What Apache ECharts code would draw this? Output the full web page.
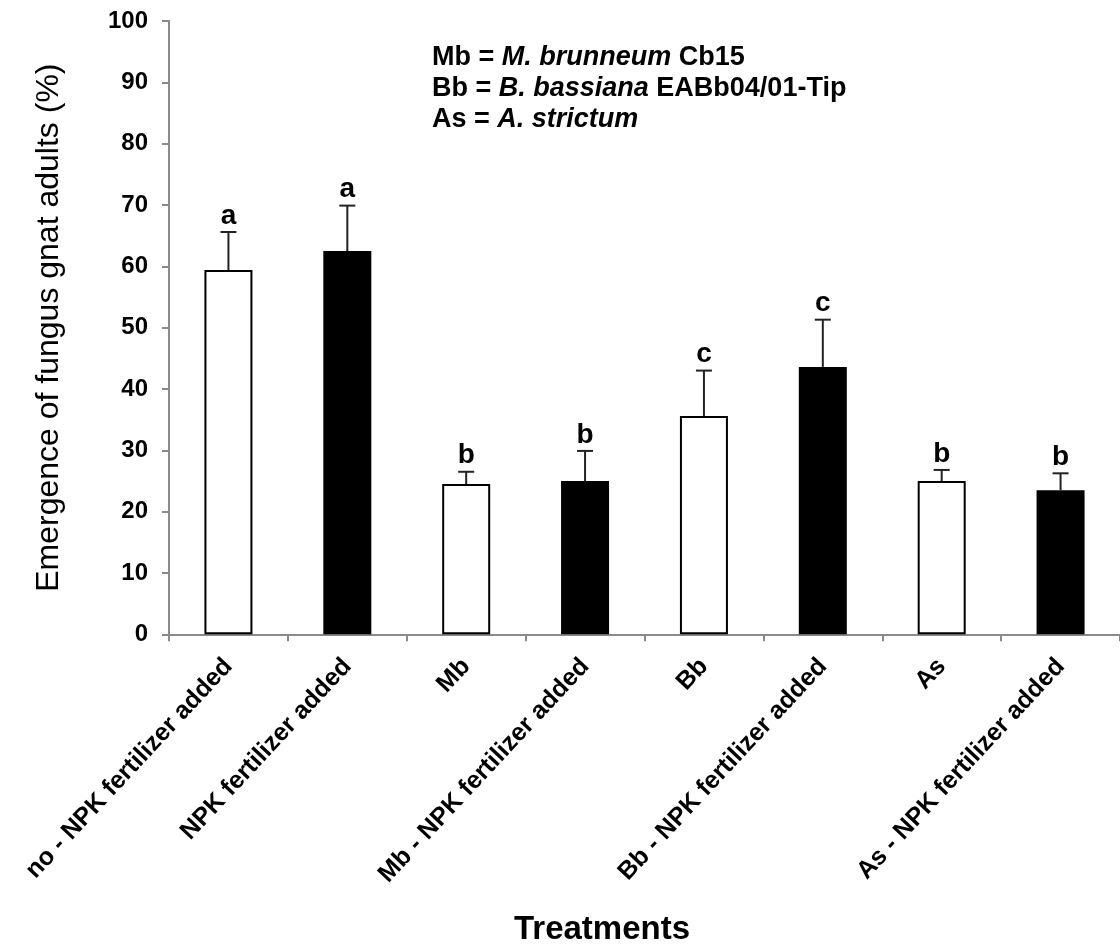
<!DOCTYPE html>
<html>
<head>
<meta charset="utf-8">
<script src="https://cdn.jsdelivr.net/npm/echarts@6/dist/echarts.min.js"></script>
<style>html,body{margin:0;padding:0;background:#fff}#c{width:1120px;height:946px}</style>
</head>
<body>
<div id="c"></div>
<script>
var categories = ['no - NPK fertilizer added', 'NPK fertilizer added', 'Mb', 'Mb - NPK fertilizer added', 'Bb', 'Bb - NPK fertilizer added', 'As', 'As - NPK fertilizer added'];
var means = [59.4, 62.5, 24.5, 25.0, 35.6, 43.6, 25.0, 23.5];
var errors = [6.2, 7.4, 2.0, 4.9, 7.4, 7.7, 1.8, 2.75];
var letters = ['a', 'a', 'b', 'b', 'c', 'c', 'b', 'b'];
var yTicks = [0, 10, 20, 30, 40, 50, 60, 70, 80, 90, 100];

var FONT = 'Liberation Sans, Arial, sans-serif';
var chart = echarts.init(document.getElementById('c'), null, {renderer: 'canvas'});

var errData = means.map(function (m, i) { return [i, m, errors[i], letters[i]]; });

var option = {
  animation: false,
  backgroundColor: '#fff',
  grid: {left: 169, top: 21, width: 959, height: 613.3, containLabel: false},
  xAxis: {
    type: 'category',
    data: categories,
    boundaryGap: true,
    axisLine: {lineStyle: {color: '#8a8a8a', width: 2}},
    axisTick: {show: true, alignWithLabel: false, length: 7, lineStyle: {color: '#8a8a8a', width: 2}},
    axisLabel: {
      interval: 0, rotate: 47, margin: 28,
      color: '#000', fontFamily: FONT, fontWeight: 'bold', fontSize: 25
    },
    splitLine: {show: false}
  },
  yAxis: {
    type: 'value',
    min: yTicks[0], max: yTicks[yTicks.length - 1], interval: 10,
    name: 'Emergence of fungus gnat adults (%)',
    nameLocation: 'middle', nameRotate: 90, nameGap: 104,
    nameTextStyle: {color: '#000', fontFamily: FONT, fontSize: 32},
    axisLine: {show: true, lineStyle: {color: '#8a8a8a', width: 2}},
    axisTick: {show: true, inside: false, length: 7, lineStyle: {color: '#8a8a8a', width: 2}},
    axisLabel: {margin: 21, color: '#000', fontFamily: FONT, fontWeight: 'bold', fontSize: 24},
    splitLine: {show: false}
  },
  series: [
    {
      type: 'bar',
      data: means,
      barWidth: 48,
      itemStyle: {
        color: function (p) { return p.dataIndex % 2 ? '#000' : '#fff'; },
        borderColor: '#000', borderWidth: 2
      },
      z: 2
    },
    {
      type: 'custom',
      data: errData,
      z: 3,
      renderItem: function (params, api) {
        var i = api.value(0), m = api.value(1), e = api.value(2);
        var base = api.coord([i, m]);
        var top = api.coord([i, m + e]);
        var half = 8;
        return {
          type: 'group',
          children: [
            {type: 'line', shape: {x1: base[0], y1: base[1], x2: top[0], y2: top[1]}, style: {stroke: '#222', lineWidth: 2}},
            {type: 'line', shape: {x1: top[0] - half, y1: top[1], x2: top[0] + half, y2: top[1]}, style: {stroke: '#222', lineWidth: 2}},
            {type: 'text', x: top[0], y: top[1] - 2, style: {
              text: letters[params.dataIndex], fill: '#000',
              font: 'bold 28px ' + FONT, align: 'center', verticalAlign: 'bottom'
            }}
          ]
        };
      }
    }
  ],
  graphic: [
    {
      type: 'text', left: 432, top: 42,
      style: {
        text: '{b|Mb = }{i|M. brunneum}{b| Cb15}\n{b|Bb = }{i|B. bassiana}{b| EABb04/01-Tip}\n{b|As = }{i|A. strictum}',
        fill: '#000', font: 'bold 27px ' + FONT, lineHeight: 31,
        rich: {
          b: {fontFamily: FONT, fontWeight: 'bold', fontSize: 27, lineHeight: 31, fill: '#000'},
          i: {fontFamily: FONT, fontWeight: 'bold', fontStyle: 'italic', fontSize: 27, lineHeight: 31, fill: '#000'}
        }
      }
    },
    {
      type: 'text', x: 602, y: 930,
      style: {text: 'Treatments', fill: '#000', font: 'bold 33px ' + FONT, align: 'center', verticalAlign: 'middle'}
    }
  ]
};
chart.setOption(option);
</script>
</body>
</html>
